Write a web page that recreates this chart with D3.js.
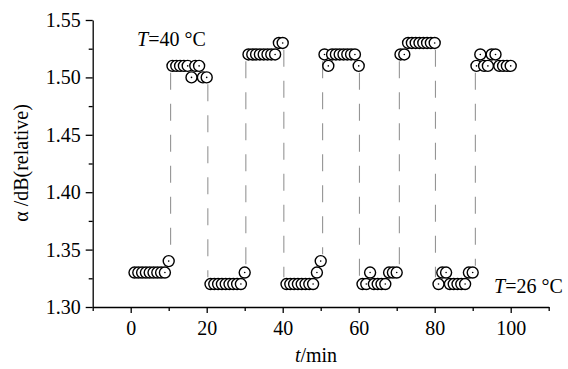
<!DOCTYPE html>
<html>
<head>
<meta charset="utf-8">
<script src="https://cdn.jsdelivr.net/npm/d3@7/dist/d3.min.js"></script>
<style>
  html, body { margin: 0; padding: 0; background: #fff; }
</style>
</head>
<body>
<svg id="chart" width="568" height="369"></svg>
<script>
// ---- data ----
const times = d3.range(1, 101);
const values = [
  1.33,1.33,1.33,1.33,1.33,1.33,1.33,1.33,1.33,1.34,
  1.51,1.51,1.51,1.51,1.51,1.50,1.51,1.51,1.50,1.50,
  1.32,1.32,1.32,1.32,1.32,1.32,1.32,1.32,1.32,1.33,
  1.52,1.52,1.52,1.52,1.52,1.52,1.52,1.52,1.53,1.53,
  1.32,1.32,1.32,1.32,1.32,1.32,1.32,1.32,1.33,1.34,
  1.52,1.51,1.52,1.52,1.52,1.52,1.52,1.52,1.52,1.51,
  1.32,1.32,1.33,1.32,1.32,1.32,1.32,1.33,1.33,1.33,
  1.52,1.52,1.53,1.53,1.53,1.53,1.53,1.53,1.53,1.53,
  1.32,1.33,1.33,1.32,1.32,1.32,1.32,1.32,1.33,1.33,
  1.51,1.52,1.51,1.51,1.52,1.52,1.51,1.51,1.51,1.51
];
// switching guide lines: time, lower level, upper level
const switchTimes = [10.5, 20.3, 30.3, 40.3, 50.5, 60.2, 70.7, 80.2, 90.7];
const switchLow   = [1.34, 1.32, 1.33, 1.32, 1.34, 1.32, 1.33, 1.32, 1.33];
const switchHigh  = [1.51, 1.50, 1.52, 1.53, 1.52, 1.51, 1.52, 1.53, 1.51];

const xMajorTicks = [0, 20, 40, 60, 80, 100];
const xMinorTicks = [-10, 10, 30, 50, 70, 90, 110];
const yMajorTicks = [1.30, 1.35, 1.40, 1.45, 1.50, 1.55];
const yMinorTicks = [1.325, 1.375, 1.425, 1.475, 1.525];

// ---- chart ----
const FONT = "Liberation Serif";
const FS = 20;
const svg = d3.select("#chart");
const x = d3.scaleLinear().domain([-10, 110]).range([92.7, 548.7]);
const y = d3.scaleLinear().domain([1.30, 1.55]).range([307, 20]);
const x0 = x(-10), y0 = y(1.30);

// dashed guides
const gap = 0.006;
svg.append("g").selectAll("line")
  .data(switchTimes.map((t, i) => ({t, lo: switchLow[i], hi: switchHigh[i]})))
  .join("line")
  .attr("x1", d => x(d.t)).attr("x2", d => x(d.t))
  .attr("y1", d => y(d.hi - gap)).attr("y2", d => y(d.lo + gap))
  .attr("stroke", "#959595").attr("stroke-width", 1.1)
  .attr("stroke-dasharray", "17,14");

// axes
function styleAxis(g) {
  g.attr("font-family", FONT).attr("font-size", FS);
  g.selectAll("path.domain").attr("stroke", "#000").attr("stroke-width", 1.3);
  g.selectAll(".tick line").attr("stroke", "#000").attr("stroke-width", 1.3);
  g.selectAll("text").attr("fill", "#000");
}
const gx = svg.append("g").attr("transform", `translate(0,${y0})`)
  .call(d3.axisBottom(x).tickValues(xMajorTicks).tickSize(6).tickSizeOuter(0).tickFormat(d3.format("d")));
gx.selectAll("text").attr("dy", null).attr("y", 28);
styleAxis(gx);
const gxm = svg.append("g").attr("transform", `translate(0,${y0})`)
  .call(d3.axisBottom(x).tickValues(xMinorTicks).tickSize(4).tickSizeOuter(0).tickFormat(""));
gxm.select("path.domain").remove();
styleAxis(gxm);

const gy = svg.append("g").attr("transform", `translate(${x0},0)`)
  .call(d3.axisLeft(y).tickValues(yMajorTicks).tickSize(7).tickPadding(5).tickSizeOuter(0).tickFormat(d3.format(".2f")));
styleAxis(gy);
const gym = svg.append("g").attr("transform", `translate(${x0},0)`)
  .call(d3.axisLeft(y).tickValues(yMinorTicks).tickSize(4).tickSizeOuter(0).tickFormat(""));
gym.select("path.domain").remove();
styleAxis(gym);

// points
const pts = svg.append("g");
times.forEach((t, i) => {
  pts.append("circle").attr("cx", x(t)).attr("cy", y(values[i])).attr("r", 5.5)
    .attr("fill", "#fff").attr("stroke", "#000").attr("stroke-width", 1.4);
  pts.append("circle").attr("cx", x(t)).attr("cy", y(values[i])).attr("r", 0.8)
    .attr("fill", "#000");
});

// annotations
function label(xp, yp, anchor) {
  return svg.append("text").attr("x", xp).attr("y", yp).attr("text-anchor", anchor)
    .attr("font-family", FONT).attr("font-size", FS).attr("fill", "#000");
}
const a1 = label(137, 46, "start");
a1.append("tspan").attr("font-style", "italic").text("T");
a1.append("tspan").text("=40 °C");
const a2 = label(494, 293, "start");
a2.append("tspan").attr("font-style", "italic").text("T");
a2.append("tspan").text("=26 °C");

// axis titles
const xt = label(316, 362, "middle");
xt.append("tspan").attr("font-style", "italic").text("t");
xt.append("tspan").text("/min");
label(0, 0, "middle").attr("x", null).attr("y", null)
  .attr("transform", "translate(28,163) rotate(-90)").text("α /dB(relative)");
</script>
</body>
</html>
